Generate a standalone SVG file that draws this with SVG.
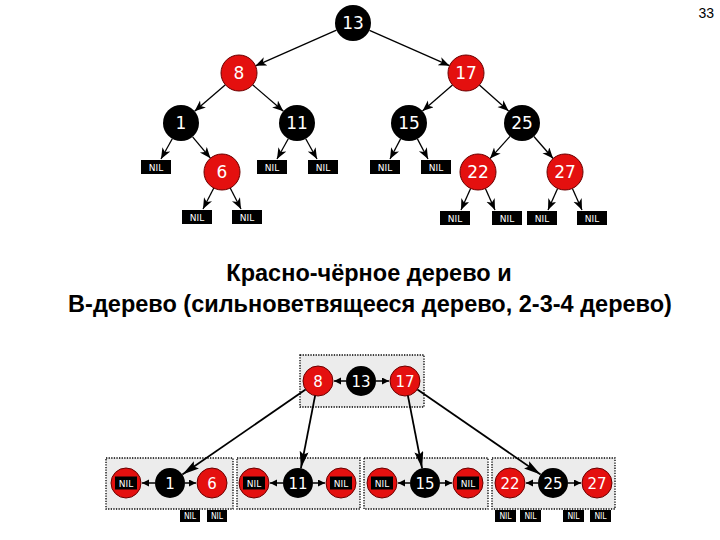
<svg xmlns="http://www.w3.org/2000/svg" width="720" height="540" viewBox="0 0 720 540">
<style>
.b{fill:#000}
.r{fill:#e4100f;stroke:#6a0000;stroke-width:1}
.t{fill:#fff;font-family:"DejaVu Sans",sans-serif;font-size:17px;text-anchor:middle}
.ts{fill:#fff;font-family:"DejaVu Sans",sans-serif;font-size:15px;text-anchor:middle}
.nil{fill:#fff;font-family:"DejaVu Sans",sans-serif;font-size:9px;text-anchor:middle}
.nils{fill:#fff;font-family:"DejaVu Sans Condensed","DejaVu Sans",sans-serif;font-size:8.5px;text-anchor:middle}
.e{stroke:#000;stroke-width:1.3;fill:none;marker-end:url(#a)}
.eb{stroke:#000;stroke-width:1.8;fill:none;marker-end:url(#ab)}
.es{stroke:#000;stroke-width:1.5;fill:none;marker-end:url(#as)}
.box{fill:#ececec;stroke:#000;stroke-width:1.3;stroke-dasharray:1.3 1.3}
.title{font-family:"Liberation Sans",Arial,sans-serif;font-size:23.5px;font-weight:bold;text-anchor:middle;fill:#000}
</style>
<defs>
<marker id="a" markerUnits="userSpaceOnUse" markerWidth="12" markerHeight="10" refX="11" refY="4.5" orient="auto"><path d="M0,0 L11,4.5 L0,9 L3,4.5 z" fill="#000"/></marker>
<marker id="ab" markerUnits="userSpaceOnUse" markerWidth="18" markerHeight="10" refX="17" refY="4.5" orient="auto"><path d="M0,0 L17,4.5 L0,9 L3,4.5 z" fill="#000"/></marker>
<marker id="as" markerUnits="userSpaceOnUse" markerWidth="8" markerHeight="8" refX="7" refY="3.5" orient="auto"><path d="M0,0 L7,3.5 L0,7 z" fill="#000"/></marker>
</defs>
<rect width="720" height="540" fill="#fff"/>
<text x="714" y="18" font-family="Liberation Sans,Arial,sans-serif" font-size="14" text-anchor="end">33</text>

<g id="connectors">
<line class="e" x1="336.5" y1="30.2" x2="255.5" y2="65.8"/>
<line class="e" x1="369.5" y1="30.3" x2="449.5" y2="65.7"/>
<line class="e" x1="225.4" y1="84.8" x2="194.6" y2="111.2"/>
<line class="e" x1="252.6" y1="84.8" x2="283.4" y2="111.2"/>
<line class="e" x1="452.5" y1="84.9" x2="422.5" y2="111.1"/>
<line class="e" x1="479.4" y1="85" x2="508.6" y2="111"/>
<line class="e" x1="192.6" y1="136.8" x2="210.4" y2="158.2"/>
<line class="e" x1="510" y1="136.4" x2="490" y2="158.6"/>
<line class="e" x1="533.9" y1="136.5" x2="553.1" y2="158.5"/>
<line class="e" x1="172.3" y1="138.7" x2="161" y2="159"/>
<line class="e" x1="288.3" y1="138.7" x2="277" y2="159"/>
<line class="e" x1="305.7" y1="138.7" x2="317" y2="159"/>
<line class="e" x1="400.6" y1="138.9" x2="390" y2="159"/>
<line class="e" x1="417.4" y1="138.9" x2="428" y2="159"/>
<line class="e" x1="213.8" y1="188" x2="203" y2="209"/>
<line class="e" x1="230.2" y1="188" x2="241" y2="209"/>
<line class="e" x1="470.6" y1="188.4" x2="461" y2="210"/>
<line class="e" x1="485.4" y1="188.4" x2="495" y2="210"/>
<line class="e" x1="557.6" y1="188.4" x2="548" y2="210"/>
<line class="e" x1="572.4" y1="188.4" x2="582" y2="210"/>
</g>

<g id="n13"><circle class="b" cx="353" cy="23" r="18"/><text class="t" x="353" y="29">13</text></g>
<g id="n8"><circle class="r" cx="239" cy="73" r="18"/><text class="t" x="239" y="79">8</text></g>
<g id="n17"><circle class="r" cx="466" cy="73" r="18"/><text class="t" x="466" y="79">17</text></g>
<g id="n1"><circle class="b" cx="181" cy="123" r="18"/><text class="t" x="181" y="129">1</text></g>
<g id="n11"><circle class="b" cx="297" cy="123" r="18"/><text class="t" x="297" y="129">11</text></g>
<g id="n15"><circle class="b" cx="409" cy="123" r="18"/><text class="t" x="409" y="129">15</text></g>
<g id="n25"><circle class="b" cx="522" cy="123" r="18"/><text class="t" x="522" y="129">25</text></g>
<g id="n6"><circle class="r" cx="222" cy="172" r="18"/><text class="t" x="222" y="178">6</text></g>
<g id="n22"><circle class="r" cx="478" cy="172" r="18"/><text class="t" x="478" y="178">22</text></g>
<g id="n27"><circle class="r" cx="565" cy="172" r="18"/><text class="t" x="565" y="178">27</text></g>

<g id="nil1"><rect x="141" y="160" width="30" height="14"/><text class="nil" x="156" y="170.5">NIL</text></g>
<g id="nil6a"><rect x="182" y="210" width="30" height="14"/><text class="nil" x="197" y="220.5">NIL</text></g>
<g id="nil6b"><rect x="232" y="210" width="30" height="14"/><text class="nil" x="247" y="220.5">NIL</text></g>
<g id="nil11a"><rect x="257" y="160" width="30" height="14"/><text class="nil" x="272" y="170.5">NIL</text></g>
<g id="nil11b"><rect x="308" y="160" width="30" height="14"/><text class="nil" x="323" y="170.5">NIL</text></g>
<g id="nil15a"><rect x="370" y="160" width="30" height="14"/><text class="nil" x="385" y="170.5">NIL</text></g>
<g id="nil15b"><rect x="421" y="160" width="30" height="14"/><text class="nil" x="436" y="170.5">NIL</text></g>
<g id="nil22a"><rect x="440" y="211" width="30" height="14"/><text class="nil" x="455" y="221.5">NIL</text></g>
<g id="nil22b"><rect x="492" y="211" width="30" height="14"/><text class="nil" x="507" y="221.5">NIL</text></g>
<g id="nil27a"><rect x="527" y="211" width="30" height="14"/><text class="nil" x="542" y="221.5">NIL</text></g>
<g id="nil27b"><rect x="577" y="211" width="30" height="14"/><text class="nil" x="592" y="221.5">NIL</text></g>

<text class="title" x="369" y="281">Красно-чёрное дерево и</text>
<text class="title" x="370" y="312">B-дерево (сильноветвящееся дерево, 2-3-4 дерево)</text>

<g id="bt-top">
<rect class="box" x="300" y="355" width="124" height="52"/>
<circle class="r" cx="318" cy="381" r="15"/><text class="ts" x="318" y="386.5">8</text>
<circle class="b" cx="361" cy="381" r="15"/><text class="ts" x="361" y="386.5">13</text>
<circle class="r" cx="405" cy="381" r="15"/><text class="ts" x="405" y="386.5">17</text>
</g>
<g id="bt-1">
<rect class="box" x="106" y="458" width="127" height="51"/>
<circle class="r" cx="126" cy="483" r="15"/><rect x="115" y="476.5" width="22" height="13"/><text class="nil" x="126" y="486.5">NIL</text>
<circle class="b" cx="170" cy="483" r="15"/><text class="ts" x="170" y="488.5">1</text>
<circle class="r" cx="212" cy="483" r="15"/><text class="ts" x="212" y="488.5">6</text>
</g>
<g id="bt-11">
<rect class="box" x="237" y="458" width="123" height="51"/>
<circle class="r" cx="254" cy="483" r="15"/><rect x="243" y="476.5" width="22" height="13"/><text class="nil" x="254" y="486.5">NIL</text>
<circle class="b" cx="298" cy="483" r="15"/><text class="ts" x="298" y="488.5">11</text>
<circle class="r" cx="341" cy="483" r="15"/><rect x="330" y="476.5" width="22" height="13"/><text class="nil" x="341" y="486.5">NIL</text>
</g>
<g id="bt-15">
<rect class="box" x="364" y="458" width="124" height="51"/>
<circle class="r" cx="382" cy="483" r="15"/><rect x="371" y="476.5" width="22" height="13"/><text class="nil" x="382" y="486.5">NIL</text>
<circle class="b" cx="425" cy="483" r="15"/><text class="ts" x="425" y="488.5">15</text>
<circle class="r" cx="468" cy="483" r="15"/><rect x="457" y="476.5" width="22" height="13"/><text class="nil" x="468" y="486.5">NIL</text>
</g>
<g id="bt-25">
<rect class="box" x="492" y="458" width="123" height="51"/>
<circle class="r" cx="510" cy="483" r="15"/><text class="ts" x="510" y="488.5">22</text>
<circle class="b" cx="553" cy="483" r="15"/><text class="ts" x="553" y="488.5">25</text>
<circle class="r" cx="597" cy="483" r="15"/><text class="ts" x="597" y="488.5">27</text>
</g>
<g id="bt-nils">
<rect x="180" y="510" width="20" height="12"/><text class="nils" x="190" y="519">NIL</text>
<rect x="207" y="510" width="20" height="12"/><text class="nils" x="217" y="519">NIL</text>
<rect x="495" y="510" width="21" height="12"/><text class="nils" x="505.5" y="519">NIL</text>
<rect x="520" y="510" width="21" height="12"/><text class="nils" x="530.5" y="519">NIL</text>
<rect x="563" y="510" width="21" height="12"/><text class="nils" x="573.5" y="519">NIL</text>
<rect x="590" y="510" width="21" height="12"/><text class="nils" x="600.5" y="519">NIL</text>
</g>

<g id="bt-connectors">
<line class="es" x1="346" y1="381" x2="334" y2="381"/>
<line class="es" x1="376" y1="381" x2="389" y2="381"/>
<line class="es" x1="155" y1="483" x2="142" y2="483"/>
<line class="es" x1="185" y1="483" x2="196" y2="483"/>
<line class="es" x1="283" y1="483" x2="270" y2="483"/>
<line class="es" x1="313" y1="483" x2="325" y2="483"/>
<line class="es" x1="410" y1="483" x2="398" y2="483"/>
<line class="es" x1="440" y1="483" x2="452" y2="483"/>
<line class="es" x1="538" y1="483" x2="526" y2="483"/>
<line class="es" x1="568" y1="483" x2="581" y2="483"/>
<line class="eb" x1="305.6" y1="389.5" x2="182.4" y2="474.5"/>
<line class="eb" x1="315.1" y1="395.7" x2="300.9" y2="468.3"/>
<line class="eb" x1="407.9" y1="395.7" x2="422.1" y2="468.3"/>
<line class="eb" x1="417.4" y1="389.5" x2="540.6" y2="474.5"/>
</g>
</svg>
